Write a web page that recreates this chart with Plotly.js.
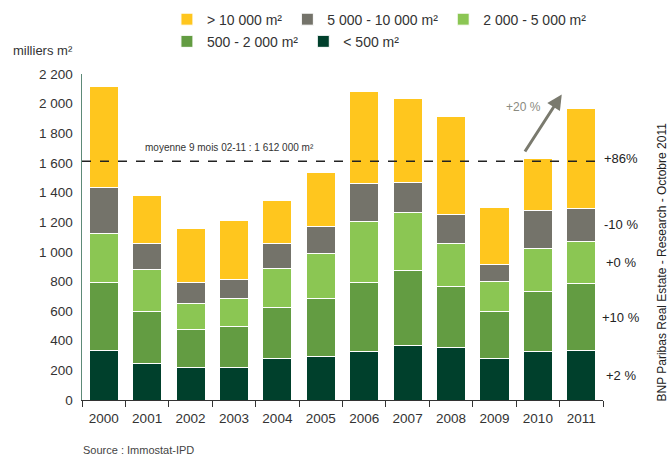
<!DOCTYPE html>
<html>
<head>
<meta charset="utf-8">
<script src="https://cdn.plot.ly/plotly-3.0.1.min.js"></script>
<style>
  html, body { margin: 0; padding: 0; background: #ffffff; }
  #chart { width: 669px; height: 466px; }
</style>
</head>
<body>
<div id="chart"></div>
<script>
// Transactions bureaux par tranche de surface (milliers m²)
const years = ['2000', '2001', '2002', '2003', '2004', '2005', '2006', '2007', '2008', '2009', '2010', '2011'];

const under500 = [335, 245, 220, 220, 281, 293, 326, 369, 351, 281, 326, 335];
const s500to2000 = [457, 355, 256, 274, 343, 395, 466, 504, 415, 319, 406, 448];
const s2000to5000 = [333, 278, 175, 190, 265, 300, 410, 395, 292, 201, 289, 289];
const s5000to10000 = [306, 177, 142, 126, 166, 181, 256, 199, 196, 114, 256, 222];
const over10000 = [686, 323, 365, 402, 288, 366, 623, 569, 660, 386, 354, 673];

const seriesNames = ['< 500 m²', '500 - 2 000 m²', '2 000 - 5 000 m²', '5 000 - 10 000 m²', '> 10 000 m²'];
const seriesColors = ['#00402c', '#639c42', '#8bc653', '#74736a', '#ffc61e'];
const seriesValues = [under500, s500to2000, s2000to5000, s5000to10000, over10000];

// evolution 2011 vs 2010, one per segment (bottom to top)
const growthLabels = ['+2 %', '+10 %', '+0 %', '-10 %', '+86%'];

const average = 1612;
const averageLabel = 'moyenne 9 mois 02-11 : 1 612 000 m²';

const FONT = '"Liberation Sans", Arial, sans-serif';

const traces = seriesValues.map(function (vals, i) {
    return {
        type: 'bar',
        x: years,
        y: vals,
        name: seriesNames[i],
        marker: { color: seriesColors[i], line: { color: '#ffffff', width: 1 } },
        legend: i < 2 ? 'legend2' : 'legend',
        hoverinfo: 'x+y+name'
    };
});

// growth labels placed at the middle of each 2011 segment
const last = years.length - 1;
let cum = 0;
const growthAnnotations = seriesValues.map(function (vals, i) {
    const mid = cum + vals[last] / 2;
    cum += vals[last];
    return {
        xref: 'paper', yref: 'y',
        x: 1.034, y: mid,
        text: growthLabels[i],
        showarrow: false,
        xanchor: 'center',
        font: { size: 13, color: '#222222', family: FONT }
    };
});

const legendFont = { size: 14, color: '#333333', family: FONT };

const layout = {
    width: 669,
    height: 466,
    barmode: 'stack',
    bargap: 0.33,
    separators: ', ',
    paper_bgcolor: '#ffffff',
    plot_bgcolor: '#ffffff',
    margin: { l: 81.5, r: 66, t: 73.5, b: 65.5, autoexpand: false },
    font: { family: FONT, size: 13, color: '#333333' },
    xaxis: {
        type: 'category',
        showline: true,
        linecolor: '#333333',
        linewidth: 1,
        ticks: 'outside',
        tickson: 'boundaries',
        ticklen: 6,
        tickcolor: '#333333',
        ticklabelstandoff: 6,
        showgrid: false,
        tickfont: { size: 13.5, color: '#333333', family: FONT }
    },
    yaxis: {
        range: [0, 2200],
        dtick: 200,
        separatethousands: true,
        showline: true,
        linecolor: '#5d8a78',
        linewidth: 1.5,
        showgrid: false,
        zeroline: false,
        ticks: '',
        ticklabelstandoff: 5,
        tickfont: { size: 13.5, color: '#333333', family: FONT }
    },
    legend: {
        orientation: 'h',
        traceorder: 'reversed',
        x: 0.163, xanchor: 'left',
        y: 1.216, yanchor: 'top',
        font: legendFont,
        bgcolor: 'rgba(0,0,0,0)'
    },
    legend2: {
        orientation: 'h',
        traceorder: 'reversed',
        x: 0.163, xanchor: 'left',
        y: 1.148, yanchor: 'top',
        font: legendFont,
        bgcolor: 'rgba(0,0,0,0)'
    },
    shapes: [{
        type: 'line',
        xref: 'paper', yref: 'y',
        x0: 0, x1: 1,
        y0: average, y1: average,
        line: { color: '#222222', width: 1.5, dash: 'dash' }
    }],
    annotations: [
        {
            xref: 'paper', yref: 'paper',
            x: -0.137, y: 1.102,
            xanchor: 'left',
            text: 'milliers m²',
            showarrow: false,
            font: { size: 13, color: '#333333', family: FONT }
        },
        {
            xref: 'x', yref: 'y',
            x: 2.9, y: average,
            yshift: 14,
            text: averageLabel,
            showarrow: false,
            font: { size: 10, color: '#333333', family: FONT }
        },
        {
            xref: 'x', yref: 'y',
            x: 10.55, y: 2062,
            ax: 9.68, ay: 1667,
            axref: 'x', ayref: 'y',
            text: '',
            showarrow: true,
            arrowhead: 2,
            arrowsize: 1,
            arrowwidth: 3,
            arrowcolor: '#7a7a6e'
        },
        {
            xref: 'x', yref: 'y',
            x: 9.66, y: 1980,
            text: '+20 %',
            showarrow: false,
            font: { size: 12, color: '#8a8a80', family: FONT }
        },
        {
            xref: 'paper', yref: 'paper',
            x: 1.13, y: 0.424,
            text: 'BNP Paribas Real Estate - Research - Octobre 2011',
            textangle: -90,
            showarrow: false,
            font: { size: 12, color: '#222222', family: FONT }
        },
        {
            xref: 'paper', yref: 'paper',
            x: -0.001, y: -0.178,
            xanchor: 'left',
            text: 'Source : Immostat-IPD',
            showarrow: false,
            font: { size: 11, color: '#444444', family: FONT }
        }
    ].concat(growthAnnotations)
};

Plotly.newPlot('chart', traces, layout, { displayModeBar: false, staticPlot: true });
</script>
</body>
</html>
